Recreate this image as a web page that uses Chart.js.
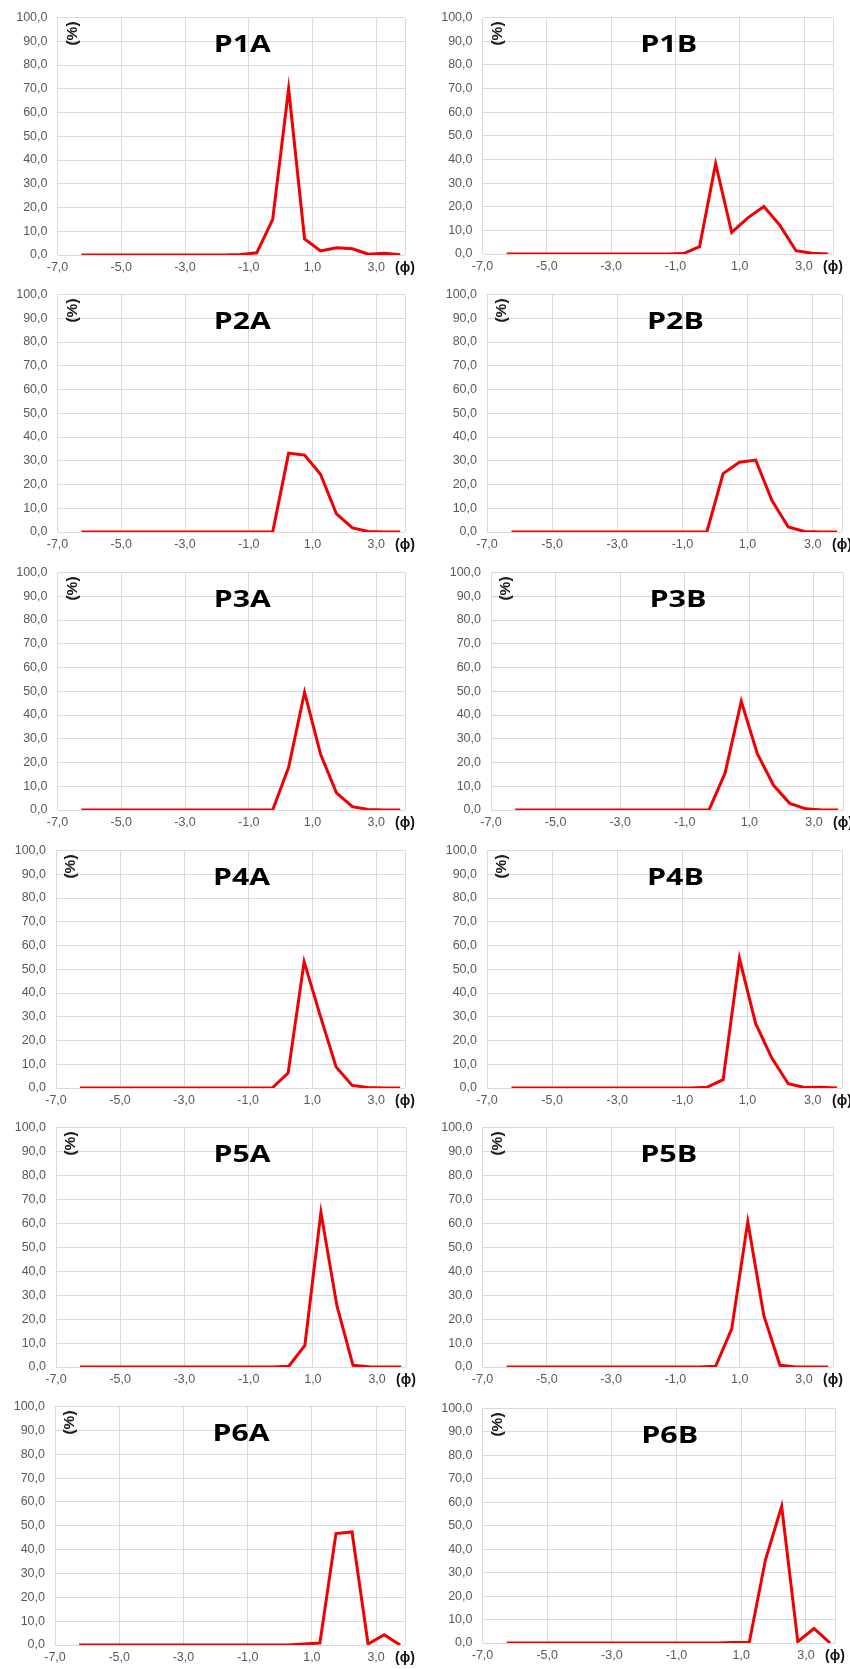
<!DOCTYPE html>
<html>
<head>
<meta charset="utf-8">
<script src="https://cdn.jsdelivr.net/npm/chart.js@4.4.1/dist/chart.umd.min.js"></script>
<style>
  html, body { margin: 0; padding: 0; background: #ffffff; }
  #page { position: relative; width: 850px; height: 1669px; overflow: hidden; background: #fff; }
  canvas { position: absolute; }
</style>
</head>
<body>
<div id="page"></div>
<script>
// ---- data ----
const PHI = [-6.25, -5.75, -5.25, -4.75, -4.25, -3.75, -3.25, -2.75, -2.25, -1.75, -1.25,
             -0.75, -0.25, 0.25, 0.75, 1.25, 1.75, 2.25, 2.75, 3.25, 3.75];

const P1A = [0,0,0,0,0,0,0,0,0,0, 0.2, 0.9, 15.0, 70.0, 6.8, 1.7, 3.0, 2.6, 0.3, 0.7, 0.1];
const P1B = [0,0,0,0,0,0,0,0,0,0, 0.0, 0.2, 3.1, 38.2, 9.1, 15.3, 20.1, 12.1, 1.4, 0.3, 0.0];
const P2A = [0,0,0,0,0,0,0,0,0,0, 0.0, 0.0, 0.0, 33.2, 32.4, 24.3, 7.6, 1.7, 0.2, 0.0, 0.0];
const P2B = [0,0,0,0,0,0,0,0,0,0, 0.0, 0.0, 0.0, 24.6, 29.4, 30.3, 13.2, 2.1, 0.2, 0.0, 0.0];
const P3A = [0,0,0,0,0,0,0,0,0,0, 0.0, 0.0, 0.0, 18.0, 49.6, 23.6, 7.2, 1.4, 0.2, 0.0, 0.0];
const P3B = [0,0,0,0,0,0,0,0,0,0, 0.0, 0.0, 0.0, 15.6, 45.8, 23.6, 10.4, 2.8, 0.5, 0.0, 0.0];
const P4A = [0,0,0,0,0,0,0,0,0,0, 0.0, 0.0, 0.0, 6.3, 53.2, 30.6, 8.8, 1.1, 0.2, 0.0, 0.0];
const P4B = [0,0,0,0,0,0,0,0,0,0, 0.0, 0.0, 0.3, 3.5, 54.6, 27.1, 12.5, 1.8, 0.2, 0.3, 0.0];
const P5A = [0,0,0,0,0,0,0,0,0,0, 0.0, 0.0, 0.0, 0.3, 9.0, 64.6, 25.5, 0.7, 0.1, 0.0, 0.0];
const P5B = [0,0,0,0,0,0,0,0,0,0, 0.0, 0.0, 0.0, 0.3, 15.9, 60.7, 21.4, 0.7, 0.0, 0.0, 0.0];
const P6A = [0,0,0,0,0,0,0,0,0,0, 0.0, 0.0, 0.0, 0.0, 0.4, 0.8, 46.7, 47.4, 0.4, 4.3, 0.0];
const P6B = [0,0,0,0,0,0,0,0,0,0, 0.0, 0.0, 0.0, 0.0, 0.2, 0.3, 35.5, 58.3, 0.6, 6.2, 0.0];

const PANEL_NAMES = ['P1A','P1B','P2A','P2B','P3A','P3B','P4A','P4B','P5A','P5B','P6A','P6B'];
const SERIES = [P1A, P1B, P2A, P2B, P3A, P3B, P4A, P4B, P5A, P5B, P6A, P6B];

const X_TICKS = [-7, -5, -3, -1, 1, 3];
const X_MIN = -7, X_MAX = 3.9;
const Y_MIN = 0, Y_MAX = 100, Y_STEP = 10;
const X_UNIT_LABEL = '(\u03D5)';
const Y_UNIT_LABEL = '(%)';

// ---- layout (plot-area edges in page pixels) ----
const GEOM = [
  {L:57.5, R:405, T:15,   B:255},  {L:482.5, R:833, T:15,   B:254},
  {L:57.5, R:405, T:292,  B:532},  {L:487,   R:842, T:292,  B:532},
  {L:57.5, R:405, T:570,  B:810},  {L:491,   R:843, T:570,  B:810},
  {L:56,   R:405, T:848,  B:1088}, {L:487,   R:842, T:848,  B:1088},
  {L:56,   R:406, T:1125, B:1367}, {L:482.5, R:833, T:1125, B:1367},
  {L:55,   R:405, T:1404, B:1645}, {L:482.5, R:835, T:1406, B:1643}
];

const fmt = v => v.toFixed(1).replace('.', ',');
const TICK_FONT = {family: '"Liberation Sans", Arial, sans-serif', size: 12.5};
const UNIT_FONT = {family: '"Liberation Sans", "DejaVu Sans", Arial, sans-serif', size: 14, weight: 'bold'};
const GRID = '#dadada';
const TICK_COLOR = '#595959';

const panelText = {
  id: 'panelText',
  afterDraw(chart, args, opts) {
    const ctx = chart.ctx, a = chart.chartArea;
    ctx.save();
    // title
    ctx.font = 'bold 24px "Open Sans", "DejaVu Sans", sans-serif';
    const w = ctx.measureText(opts.title).width;
    const s = 57 / w;
    ctx.translate((a.left + a.right) / 2 + 11, a.top + 34);
    ctx.scale(s, 1);
    ctx.fillStyle = '#000';
    ctx.textAlign = 'center';
    ctx.textBaseline = 'alphabetic';
    ctx.fillText(opts.title, 0, 0);
    ctx.restore();
    // (%) rotated
    ctx.save();
    ctx.translate(a.left + 15, a.top + 16);
    ctx.rotate(-Math.PI / 2);
    ctx.font = 'bold 15.5px "Liberation Sans", Arial, sans-serif';
    ctx.fillStyle = '#1a1a1a';
    ctx.textAlign = 'center';
    ctx.textBaseline = 'middle';
    ctx.fillText(Y_UNIT_LABEL, 0, 0);
    ctx.restore();
  }
};

const page = document.getElementById('page');
PANEL_NAMES.forEach((name, i) => {
  const g = GEOM[i];
  const col = i % 2;
  const cLeft = col * 425;
  const cTop = g.T - 15;
  const cW = 440;
  const cH = (g.B - g.T) + 15 + 26;
  const cv = document.createElement('canvas');
  cv.width = cW; cv.height = cH;
  cv.style.left = cLeft + 'px';
  cv.style.top = cTop + 'px';
  cv.style.width = cW + 'px';
  cv.style.height = cH + 'px';
  page.appendChild(cv);

  new Chart(cv.getContext('2d'), {
    type: 'line',
    data: {
      datasets: [{
        data: PHI.map((x, k) => ({x: x, y: SERIES[i][k]})),
        borderColor: '#f00000',
        borderWidth: 3,
        pointRadius: 0,
        tension: 0,
        fill: false
      }]
    },
    options: {
      responsive: false,
      animation: false,
      devicePixelRatio: 1,
      layout: { padding: { top: 15, right: (cLeft + cW) - g.R, left: 0, bottom: 0 } },
      plugins: {
        legend: { display: false },
        tooltip: { enabled: false },
        title: { display: false },
        panelText: { title: name }
      },
      scales: {
        x: {
          type: 'linear',
          min: X_MIN, max: X_MAX,
          afterBuildTicks: sc => { sc.ticks = X_TICKS.concat([X_MAX]).map(v => ({value: v})); },
          afterFit: sc => { sc.height = 26; },
          grid: { color: GRID, lineWidth: 1, drawTicks: false },
          border: { display: false },
          ticks: {
            autoSkip: false, maxRotation: 0, minRotation: 0, padding: 5,
            callback: v => (v === X_MAX ? X_UNIT_LABEL : fmt(v)),
            font: c => (c.tick && c.tick.value === X_MAX ? UNIT_FONT : TICK_FONT),
            color: c => (c.tick && c.tick.value === X_MAX ? '#111' : TICK_COLOR)
          }
        },
        y: {
          type: 'linear',
          min: Y_MIN, max: Y_MAX,
          afterFit: sc => { sc.width = g.L - cLeft; },
          grid: { color: GRID, lineWidth: 1, drawTicks: false },
          border: { display: false },
          ticks: {
            stepSize: Y_STEP, padding: 10,
            callback: v => fmt(v),
            font: TICK_FONT,
            color: TICK_COLOR
          }
        }
      }
    },
    plugins: [panelText]
  });
});
</script>
</body>
</html>
